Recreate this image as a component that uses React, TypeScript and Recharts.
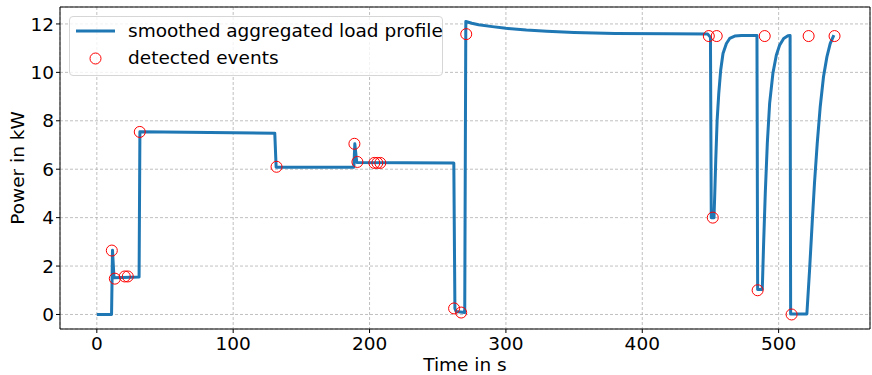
import {
  ComposedChart,
  Line,
  Scatter,
  XAxis,
  YAxis,
  CartesianGrid,
  ReferenceArea
} from 'recharts'

// smoothed aggregated load profile (time in s, power in kW)
const profileTime = [
  0, 10.8, 11.5, 12.6, 31, 31.6, 130.5, 131.5, 188.5, 189.2, 190.6, 261.8,
  262.6, 263.5, 269.8, 270.6, 275, 280, 290, 300, 315, 330, 350, 380, 420,
  448, 450, 450.6, 452.6, 453.1, 453.9, 454.9, 456.1, 457.5, 459.2, 461.7,
  464.1, 467.8, 472.7, 484.1,
  484.6, 488, 489, 490.2, 491.7, 493.4, 495.8, 498.3, 500.7, 503.7, 506.8,
  508.4, 508.8, 520.7,
  522.7, 524.6, 526.3, 528.3, 530.5, 532.9, 535.4, 537.8, 540.5
]
const profilePower = [
  0, 0, 2.65, 1.52, 1.55, 7.55, 7.49, 6.08, 6.08, 7.05, 6.28, 6.26,
  0.25, 0.12, 0.08, 12.1, 12.03, 11.97, 11.89, 11.82, 11.75, 11.7, 11.65, 11.61, 11.59,
  11.58, 11.45, 4.0, 4.0, 4.87, 6.39, 8.03, 9.13, 10.09, 10.78, 11.19,
  11.4, 11.5, 11.52, 11.52,
  1.03, 1.03, 2.95, 5.01, 7.07, 8.72, 9.96, 10.71, 11.12, 11.4, 11.51,
  11.52, 0.02, 0.02,
  1.85, 3.78, 5.43, 7.07, 8.58, 9.82, 10.64, 11.19, 11.54
]

// detected events
const eventTime = [
  11.0, 13.2, 20.5, 22.7, 31.5, 131.8, 188.9, 191.1, 203.5, 205.7, 207.9,
  262, 267.2, 270.9, 448.8, 451.7, 454.6, 484.6, 489.8, 509.5, 522, 541
]
const eventPower = [
  2.64, 1.48, 1.57, 1.57, 7.54, 6.1, 7.05, 6.3, 6.26, 6.26, 6.26,
  0.25, 0.08, 11.58, 11.5, 4.0, 11.5, 1.0, 11.5, 0.0, 11.5, 11.5
]

const xTicks = [0, 100, 200, 300, 400, 500]
const yTicks = [0, 2, 4, 6, 8, 10, 12]

const profile = profileTime.map((t, i) => ({ t, p: profilePower[i] }))
const events = eventTime.map((t, i) => ({ t, e: eventPower[i] }))

const FONT = 'DejaVu Sans'
const FS = 18.5
const BLUE = '#1f77b4'

// eslint-disable-next-line @typescript-eslint/no-explicit-any
function EventMarker({ cx, cy }: any) {
  if (cx == null || cy == null) return null
  return <circle cx={cx} cy={cy} r={5.5} fill="none" stroke="#ff0000" strokeWidth={1} />
}

function LegendBox() {
  return (
    <div
      style={{
        position: 'absolute',
        left: 69,
        top: 16,
        fontFamily: FONT,
        fontSize: FS,
        color: '#000',
        width: 372,
        height: 58,
        border: '1px solid #d6d6d6',
        borderRadius: 4,
        background: 'rgba(255,255,255,0.8)'
      }}
    >
      <svg width={60} height={58} style={{ position: 'absolute', left: 0, top: 0 }}>
        <line x1={6} y1={14} x2={45} y2={14} stroke={BLUE} strokeWidth={3} />
        <circle cx={25.5} cy={41.5} r={5.5} fill="none" stroke="#ff0000" strokeWidth={1} />
      </svg>
      <div style={{ position: 'absolute', left: 58, top: 3, lineHeight: '22px', whiteSpace: 'nowrap' }}>
        smoothed aggregated load profile
      </div>
      <div style={{ position: 'absolute', left: 58, top: 30, lineHeight: '22px', whiteSpace: 'nowrap' }}>
        detected events
      </div>
    </div>
  )
}

// eslint-disable-next-line @typescript-eslint/no-explicit-any
function YLabel({ viewBox }: any) {
  const cx = 17
  const cy = viewBox.y + viewBox.height / 2
  return (
    <text
      x={cx}
      y={cy}
      transform={`rotate(-90 ${cx} ${cy})`}
      textAnchor="middle"
      dominantBaseline="central"
      fontFamily={FONT}
      fontSize={FS}
      fill="#000"
    >
      Power in kW
    </text>
  )
}

// eslint-disable-next-line @typescript-eslint/no-explicit-any
function XLabel({ viewBox }: any) {
  const cx = viewBox.x + viewBox.width / 2
  return (
    <text x={cx} y={371} textAnchor="middle" fontFamily={FONT} fontSize={FS} fill="#000">
      Time in s
    </text>
  )
}

export default function App() {
  return (
    <div style={{ position: 'absolute', left: 0, top: 0, width: 872, height: 375, fontFamily: FONT, background: '#fff' }}>
      <ComposedChart
        width={872}
        height={375}
        margin={{ top: 7, right: 2, bottom: 0, left: 0 }}
      >
        <CartesianGrid stroke="#b0b0b0" strokeDasharray="3 2" strokeWidth={0.8} />
        <XAxis
          dataKey="t"
          type="number"
          domain={[-27, 567]}
          ticks={xTicks}
          allowDataOverflow
          height={46}
          axisLine={false}
          tickLine={{ stroke: '#000' }}
          tickSize={4}
          tickMargin={4}
          tick={{ fontSize: FS, fill: '#000', fontFamily: FONT }}
          label={<XLabel />}
        />
        <YAxis
          type="number"
          domain={[-0.6, 12.7]}
          ticks={yTicks}
          allowDataOverflow
          width={60}
          axisLine={false}
          tickLine={{ stroke: '#000' }}
          tickSize={4}
          tickMargin={2}
          tick={{ fontSize: FS, fill: '#000', fontFamily: FONT }}
          label={<YLabel />}
        />
        <ReferenceArea
          x1={-27}
          x2={567}
          y1={-0.6}
          y2={12.7}
          fill="none"
          fillOpacity={0}
          stroke="#000"
          strokeWidth={1}
        />
        <Line
          data={profile}
          dataKey="p"
          type="linear"
          stroke={BLUE}
          strokeWidth={3}
          strokeLinejoin="round"
          dot={false}
          activeDot={false}
          isAnimationActive={false}
          name="smoothed aggregated load profile"
        />
        <Scatter
          data={events}
          dataKey="e"
          shape={<EventMarker />}
          isAnimationActive={false}
          name="detected events"
        />
      </ComposedChart>
      <LegendBox />
    </div>
  )
}
